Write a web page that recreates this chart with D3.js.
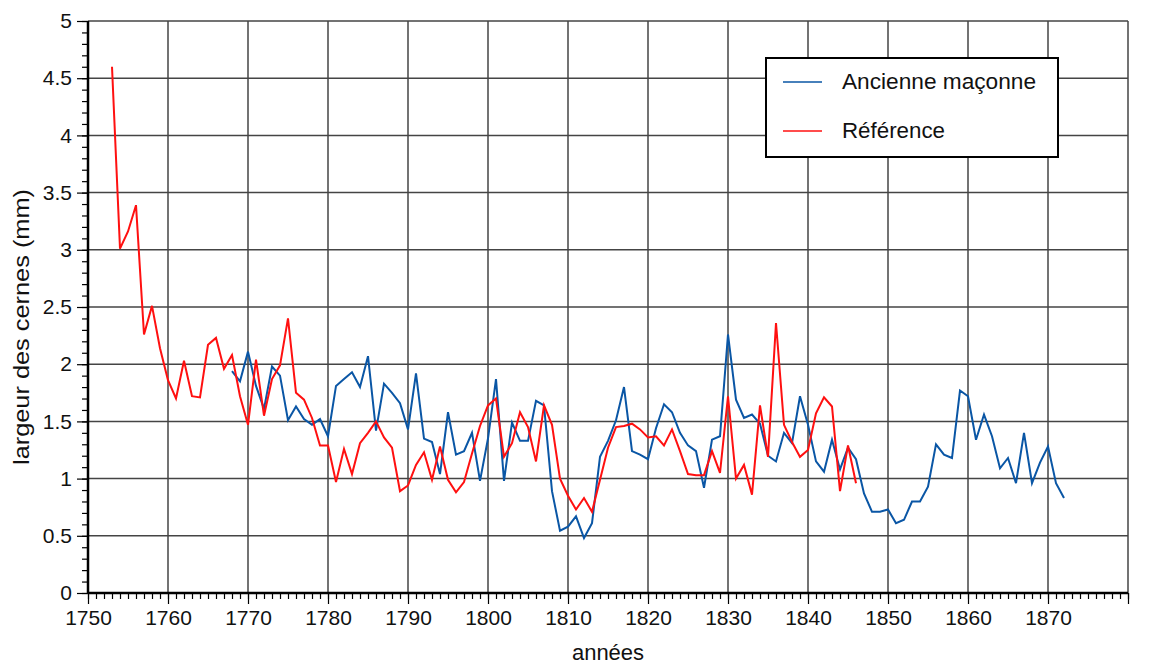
<!DOCTYPE html>
<html>
<head>
<meta charset="utf-8">
<script src="https://cdn.jsdelivr.net/npm/d3@7"></script>
<style>
  body { margin: 0; background: #fff; }
  text { font-family: "Liberation Sans", Arial, sans-serif; fill: #111; }
</style>
</head>
<body>
<svg id="chart" width="1159" height="667"></svg>
<script>
// années des deux séries
var maconneStart = 1768;
var maconne = [1.94, 1.85, 2.11, 1.81, 1.61, 1.98, 1.90, 1.51, 1.63, 1.52,
  1.47, 1.52, 1.37, 1.81, 1.87, 1.93, 1.80, 2.07, 1.42, 1.83,
  1.75, 1.66, 1.43, 1.92, 1.35, 1.32, 1.04, 1.58, 1.21, 1.24,
  1.40, 0.98, 1.35, 1.87, 0.98, 1.49, 1.33, 1.33, 1.68, 1.64,
  0.89, 0.545, 0.58, 0.67, 0.48, 0.61, 1.19, 1.33, 1.51, 1.80,
  1.24, 1.21, 1.17, 1.44, 1.65, 1.58, 1.40, 1.29, 1.24, 0.92,
  1.34, 1.37, 2.26, 1.69, 1.53, 1.56, 1.48, 1.20, 1.15, 1.40,
  1.31, 1.72, 1.47, 1.15, 1.06, 1.34, 1.08, 1.27, 1.17, 0.87,
  0.71, 0.71, 0.73, 0.61, 0.64, 0.80, 0.80, 0.93, 1.30, 1.21,
  1.18, 1.77, 1.72, 1.34, 1.56, 1.37, 1.09, 1.18, 0.96, 1.40,
  0.96, 1.14, 1.28, 0.96, 0.83];

var referenceStart = 1753;
var reference = [4.60, 3.01, 3.16, 3.39, 2.26, 2.51, 2.14, 1.86, 1.70, 2.03,
  1.72, 1.71, 2.17, 2.23, 1.96, 2.08, 1.72, 1.47, 2.04, 1.55,
  1.87, 1.99, 2.40, 1.75, 1.69, 1.53, 1.29, 1.29, 0.97, 1.26,
  1.04, 1.31, 1.40, 1.50, 1.36, 1.27, 0.89, 0.94, 1.12, 1.23,
  0.99, 1.28, 0.99, 0.88, 0.97, 1.22, 1.46, 1.64, 1.70, 1.19,
  1.31, 1.58, 1.45, 1.15, 1.64, 1.47, 1.00, 0.85, 0.73, 0.83,
  0.71, 0.99, 1.27, 1.45, 1.46, 1.48, 1.43, 1.36, 1.37, 1.29,
  1.43, 1.24, 1.04, 1.03, 1.03, 1.24, 1.05, 1.72, 1.00, 1.12,
  0.86, 1.64, 1.19, 2.36, 1.47, 1.32, 1.19, 1.25, 1.57, 1.71,
  1.63, 0.89, 1.29, 0.96];

var xTicks = d3.range(1750, 1881, 10);
var xLabels = d3.range(1750, 1871, 10);
var yTicks = d3.range(0, 5.01, 0.5);

var series = [
  { name: "Ancienne maçonne", color: "#0a56a5", start: maconneStart, values: maconne, len: 194 },
  { name: "Référence", color: "#ff1010", start: referenceStart, values: reference, len: 103 }
];

var svg = d3.select("#chart");
var margin = { left: 88, right: 31, top: 21, bottom: 74 };
var width = 1159 - margin.left - margin.right;
var height = 667 - margin.top - margin.bottom;

var x = d3.scaleLinear().domain([1750, 1880]).range([0, width]);
var y = d3.scaleLinear().domain([0, 5]).range([height, 0]);

var g = svg.append("g")
  .attr("transform", "translate(" + margin.left + "," + margin.top + ")");

// grille
g.append("g").selectAll("line")
  .data(xTicks)
  .enter().append("line")
  .attr("x1", function (d) { return x(d); })
  .attr("x2", function (d) { return x(d); })
  .attr("y1", 0).attr("y2", height)
  .attr("stroke", "#444").attr("stroke-width", 1.5);

g.append("g").selectAll("line")
  .data(yTicks)
  .enter().append("line")
  .attr("x1", 0).attr("x2", width)
  .attr("y1", function (d) { return y(d); })
  .attr("y2", function (d) { return y(d); })
  .attr("stroke", "#444").attr("stroke-width", 1.5);

// courbes
var line = d3.line()
  .x(function (d) { return x(d.year); })
  .y(function (d) { return y(d.v); });

series.forEach(function (s) {
  var pts = s.values.map(function (v, i) { return { year: s.start + i, v: v }; });
  g.append("path")
    .datum(pts)
    .attr("d", line)
    .attr("fill", "none")
    .attr("stroke", s.color)
    .attr("stroke-width", 2)
    .attr("stroke-linejoin", "miter");
});

// axe x
var xMinor = g.append("g")
  .attr("transform", "translate(0," + height + ")")
  .call(d3.axisBottom(x).tickValues(d3.range(1750, 1881, 1)).tickSize(6).tickFormat(""));
var xMajor = g.append("g")
  .attr("transform", "translate(0," + height + ")")
  .call(d3.axisBottom(x).tickValues(xTicks).tickSize(11).tickPadding(6)
    .tickFormat(function (d) { return xLabels.indexOf(d) >= 0 ? d : ""; }));

// axe y
var yMinor = g.append("g")
  .call(d3.axisLeft(y).tickValues(d3.range(0, 5.01, 0.1)).tickSize(6).tickFormat(""));
var yMajor = g.append("g")
  .call(d3.axisLeft(y).tickValues(yTicks).tickSize(11).tickPadding(5)
    .tickFormat(function (d) { return d3.format("")(+d.toFixed(1)); }));

[xMinor, xMajor, yMinor, yMajor].forEach(function (a) {
  a.select(".domain").remove();
  a.selectAll(".tick line").attr("stroke", "#000").attr("stroke-width", 1.2);
  a.selectAll("text").style("font-size", "21px").attr("fill", "#111");
});

g.append("line").attr("x1", 0).attr("x2", width).attr("y1", height).attr("y2", height)
  .attr("stroke", "#000").attr("stroke-width", 2.5);
g.append("line").attr("x1", 0).attr("x2", 0).attr("y1", 0).attr("y2", height)
  .attr("stroke", "#000").attr("stroke-width", 2.5);

// titres
svg.append("text")
  .attr("x", margin.left + width / 2)
  .attr("y", 660)
  .attr("text-anchor", "middle")
  .style("font-size", "22px")
  .text("années");

svg.append("text")
  .attr("transform", "translate(29,327) rotate(-90)")
  .attr("text-anchor", "middle")
  .attr("textLength", 276)
  .attr("lengthAdjust", "spacingAndGlyphs")
  .style("font-size", "22px")
  .text("largeur des cernes (mm)");

// légende
var leg = svg.append("g").attr("transform", "translate(766,58)");
leg.append("rect")
  .attr("width", 292).attr("height", 99)
  .attr("fill", "#fff").attr("stroke", "#000").attr("stroke-width", 2);
series.forEach(function (s, i) {
  var ly = 24 + i * 49;
  leg.append("line")
    .attr("x1", 17).attr("x2", 56).attr("y1", ly).attr("y2", ly)
    .attr("stroke", s.color).attr("stroke-width", 1.6);
  leg.append("text")
    .attr("x", 76).attr("y", ly + 7)
    .attr("textLength", s.len)
    .attr("lengthAdjust", "spacingAndGlyphs")
    .style("font-size", "22px")
    .text(s.name);
});
</script>
</body>
</html>
